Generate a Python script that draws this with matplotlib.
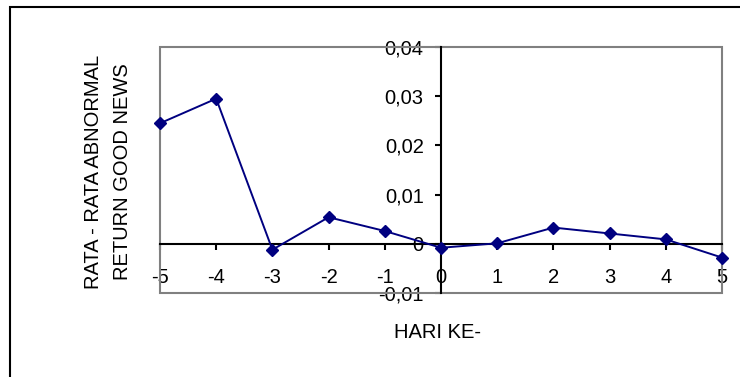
import matplotlib
matplotlib.use('Agg')
import matplotlib.pyplot as plt
from matplotlib.patches import Rectangle

# data
hari = [-5, -4, -3, -2, -1, 0, 1, 2, 3, 4, 5]
rata_abnormal = [0.0245, 0.0295, -0.0012, 0.0054, 0.0026, -0.0008, 0.0001,
                 0.0033, 0.0021, 0.0009, -0.0028]
x_labels = ['-5', '-4', '-3', '-2', '-1', '0', '1', '2', '3', '4', '5']
y_ticks = [-0.01, 0, 0.01, 0.02, 0.03, 0.04]
y_labels = ['-0,01', '0', '0,01', '0,02', '0,03', '0,04']

plt.rcParams['font.family'] = ['Liberation Sans', 'DejaVu Sans']
plt.rcParams['font.size'] = 14.5

fig = plt.figure(figsize=(7.4, 3.77), dpi=100)
ax = fig.add_axes([0.2162, 0.2228, 0.7595, 0.6525])

ax.plot(hari, rata_abnormal, color='#000080', linewidth=1.4,
        marker='D', markersize=6.5, clip_on=False, zorder=5)

ax.set_xlim(-5, 5)
ax.set_ylim(-0.01, 0.04)
ax.set_xticks(hari)
ax.set_xticklabels(x_labels)
ax.set_yticks(y_ticks)
ax.set_yticklabels(y_labels)

# sumbu melewati titik nol
ax.spines['left'].set_position(('data', 0))
ax.spines['bottom'].set_position(('data', 0))
for s in ['left', 'bottom']:
    ax.spines[s].set_color('black')
    ax.spines[s].set_linewidth(1.5)
    ax.spines[s].set_zorder(4)
ax.spines['top'].set_visible(False)
ax.spines['right'].set_visible(False)

# bingkai abu-abu area plot
ax.add_patch(Rectangle((0, 0), 1, 1, transform=ax.transAxes, fill=False,
                       edgecolor='#808080', linewidth=1.5, clip_on=False, zorder=3))

ax.tick_params(axis='x', direction='out', length=4.5, width=1.5, pad=13)
ax.tick_params(axis='y', direction='out', length=4.5, width=1.5, pad=8)

fig.text(108 / 740, 1 - 172 / 377, 'RATA - RATA ABNORMAL\nRETURN GOOD NEWS',
         rotation=90, ha='center', va='center', multialignment='center',
         linespacing=1.65)
fig.text(438 / 740, 1 - 333 / 377, 'HARI KE-', ha='center', va='center')

# bingkai luar
fig.patches.append(Rectangle((10 / 740, -0.2), 1.2, 1.2 - 7 / 377,
                             transform=fig.transFigure, fill=False,
                             edgecolor='black', linewidth=1.5))

fig.savefig('out.png', dpi=100)
